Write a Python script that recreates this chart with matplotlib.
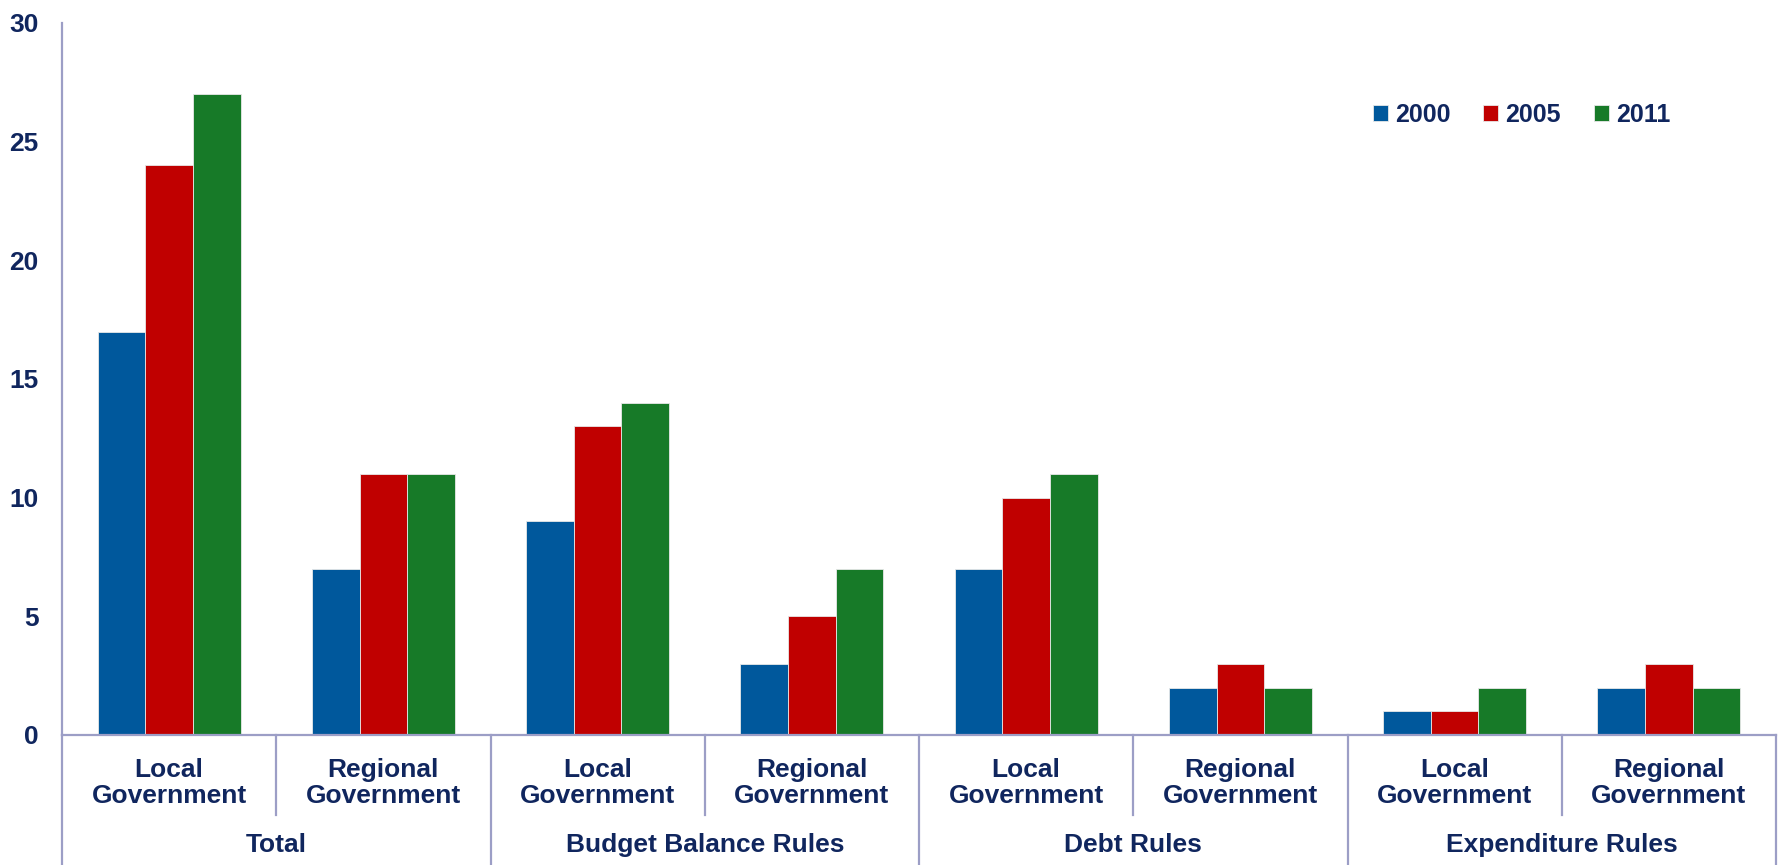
import matplotlib.pyplot as plt
import numpy as np
from matplotlib.transforms import blended_transform_factory

plt.rcParams['font.family'] = ['Liberation Sans', 'DejaVu Sans']
plt.rcParams['font.weight'] = 'bold'

groups = ['Total', 'Budget Balance Rules', 'Debt Rules', 'Expenditure Rules']
levels = ['Local\nGovernment', 'Regional\nGovernment']
years = ['2000', '2005', '2011']
v2000 = [17, 7, 9, 3, 7, 2, 1, 2]
v2005 = [24, 11, 13, 5, 10, 3, 1, 3]
v2011 = [27, 11, 14, 7, 11, 2, 2, 2]

colors = ['#00589c', '#c00000', '#177a28']
navy = '#10265e'
line_col = '#9c9ec6'

W, H = 1787, 865
fig = plt.figure(figsize=(W / 100, H / 100), dpi=100)
ax = fig.add_axes([62 / W, (H - 735) / H, (1776 - 62) / W, (735 - 23) / H])

x = np.arange(len(v2000))
bw = 0.2226
for k, (vals, c, lab) in enumerate(zip([v2000, v2005, v2011], colors, years)):
    ax.bar(x + (k - 1) * bw, vals, bw, color=c, label=lab,
           edgecolor='#e8e8e8', linewidth=0.6)

ax.set_xlim(-0.5, len(x) - 0.5)
ax.set_ylim(0, 30)
ax.set_yticks(range(0, 31, 5))
ax.tick_params(axis='y', length=0, pad=17, labelsize=19, labelcolor=navy)
ax.set_xticks([])
for s in ['top', 'right']:
    ax.spines[s].set_visible(False)
for s in ['left', 'bottom']:
    ax.spines[s].set_color(line_col)
    ax.spines[s].set_linewidth(1.6)

# two-level category axis below the plot
tr = blended_transform_factory(ax.transData, fig.transFigure)
y_axis = (H - 735) / H
y_sub = (H - 815) / H
for b in range(len(x) + 1):
    pos = b - 0.5
    bottom = 0 if b % 2 == 0 else y_sub
    ax.plot([pos, pos], [y_axis, bottom], transform=tr, color=line_col,
            lw=1.6, clip_on=False)

for i in x:
    ax.text(i, (H - 783) / H, levels[i % 2], transform=tr, ha='center',
            va='center', fontsize=19, color=navy, linespacing=1.1)
for g, name in enumerate(groups):
    ax.text(2 * g + 0.5, (H - 845) / H, name, transform=tr, ha='center',
            va='center', fontsize=19, color=navy)

leg = ax.legend(loc='upper left', bbox_to_anchor=(1350 / W, (H - 80) / H),
                bbox_transform=fig.transFigure, ncol=3, frameon=False,
                fontsize=18, handlelength=0.6, handleheight=0.6,
                handletextpad=0.3, columnspacing=1.3)
for t in leg.get_texts():
    t.set_color(navy)

fig.savefig('out.png', dpi=100)
